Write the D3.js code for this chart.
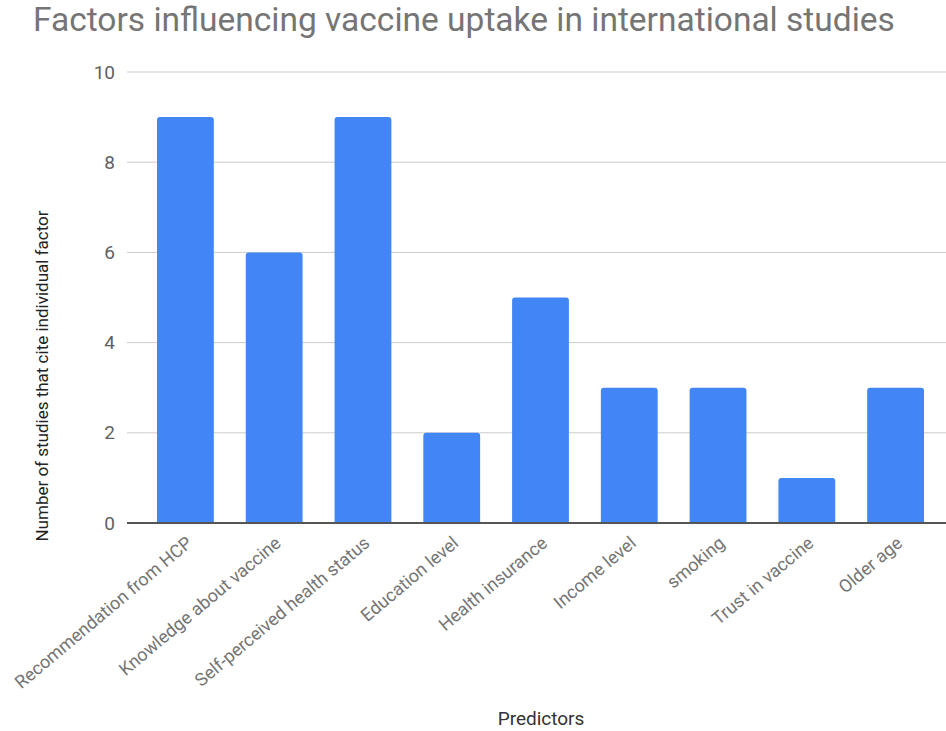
<!DOCTYPE html>
<html>
<head>
<meta charset="utf-8">
<script src="https://cdn.jsdelivr.net/npm/d3@7"></script>
<style>
  html, body { margin: 0; padding: 0; background: #fff; }
  svg { display: block; font-family: Roboto, "Noto Sans", sans-serif; }
</style>
</head>
<body>
<svg id="chart" width="946" height="731"></svg>
<script>
// Predictors of vaccine uptake and how many studies cite each one
const categories = [
  "Recommendation from HCP",
  "Knowledge about vaccine",
  "Self-perceived health status",
  "Education level",
  "Health insurance",
  "Income level",
  "smoking",
  "Trust in vaccine",
  "Older age"
];
const studyCounts = [9, 6, 9, 2, 5, 3, 3, 1, 3];
const yTicks = [0, 2, 4, 6, 8, 10];

const svg = d3.select("#chart");
const plot = { left: 127, right: 946, top: 72, bottom: 523 };

const x = d3.scaleBand()
  .domain(categories)
  .range([157, 924])
  .paddingInner(0.36)
  .paddingOuter(0);

const y = d3.scaleLinear()
  .domain([0, 10])
  .range([plot.bottom, plot.top]);

// title
svg.append("text")
  .attr("x", 33)
  .attr("y", 31)
  .attr("fill", "#757575")
  .attr("font-size", 33.5)
  .text("Factors influencing vaccine uptake in international studies");

// gridlines
svg.append("g")
  .selectAll("line")
  .data(yTicks.filter(d => d !== 0))
  .join("line")
  .attr("x1", plot.left)
  .attr("x2", plot.right)
  .attr("y1", d => y(d))
  .attr("y2", d => y(d))
  .attr("stroke", "#cccccc")
  .attr("stroke-width", 1);

// y axis tick labels
const yAxis = svg.append("g")
  .attr("transform", `translate(${plot.left},0)`)
  .call(d3.axisLeft(y).tickValues(yTicks).tickSize(0).tickPadding(12));
yAxis.select(".domain").remove();
yAxis.selectAll("text")
  .attr("fill", "#616161")
  .attr("font-size", 19)
  .attr("font-family", "Roboto, sans-serif");

// bars
svg.append("g")
  .selectAll("path")
  .data(categories.map((c, i) => ({ c, v: studyCounts[i] })))
  .join("path")
  .attr("fill", "#4285f4")
  .attr("d", d => {
    const x0 = x(d.c), w = x.bandwidth();
    const y0 = y(d.v), yb = y(0);
    const r = 3;
    return `M${x0},${yb} L${x0},${y0 + r} Q${x0},${y0} ${x0 + r},${y0}
            L${x0 + w - r},${y0} Q${x0 + w},${y0} ${x0 + w},${y0 + r} L${x0 + w},${yb} Z`;
  });

// baseline
svg.append("line")
  .attr("x1", plot.left)
  .attr("x2", plot.right)
  .attr("y1", y(0))
  .attr("y2", y(0))
  .attr("stroke", "#555555")
  .attr("stroke-width", 2);

// x axis category labels, rotated
const xAxis = svg.append("g")
  .attr("transform", `translate(0,${y(0)})`)
  .call(d3.axisBottom(x).tickSize(0).tickPadding(0));
xAxis.select(".domain").remove();
xAxis.selectAll("text")
  .attr("fill", "#757575")
  .attr("font-size", 18)
  .attr("font-family", "Roboto, sans-serif")
  .attr("text-anchor", "end")
  .attr("dy", 0)
  .attr("transform", "translate(8,22) rotate(-40)");

// axis titles
svg.append("text")
  .attr("transform", `translate(48,${376}) rotate(-90)`)
  .attr("text-anchor", "middle")
  .attr("fill", "#222")
  .attr("font-size", 17)
  .text("Number of studies that cite individual factor");

svg.append("text")
  .attr("x", 541)
  .attr("y", 725)
  .attr("text-anchor", "middle")
  .attr("fill", "#333")
  .attr("font-size", 19)
  .text("Predictors");
</script>
</body>
</html>
